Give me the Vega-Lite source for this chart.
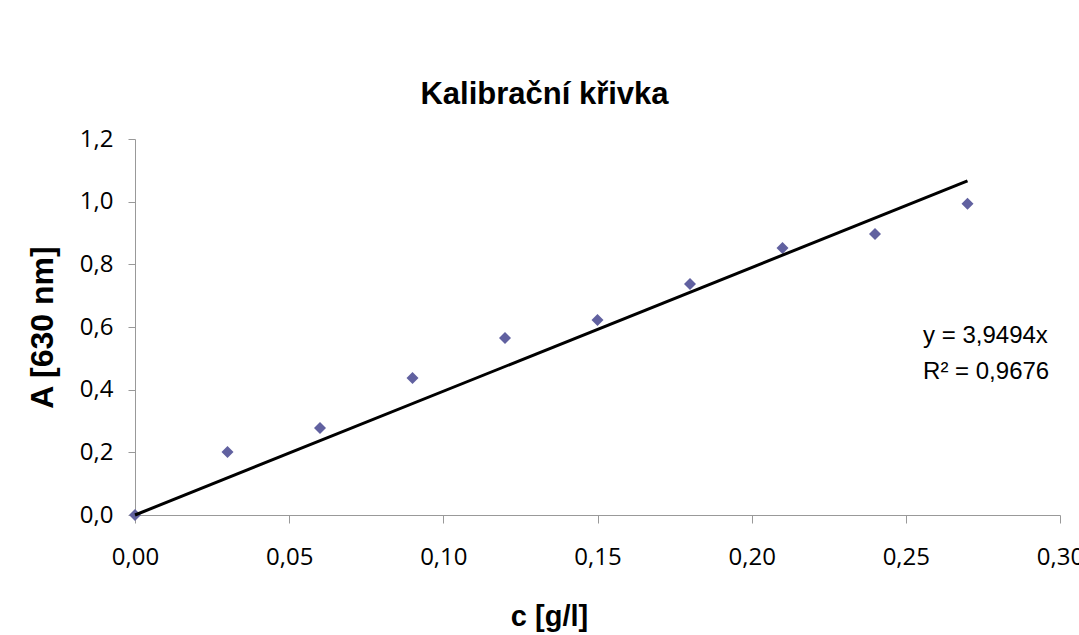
{
  "$schema": "https://vega.github.io/schema/vega-lite/v6.json",
  "autosize": {"type": "none"},
  "width": 925,
  "height": 376,
  "padding": {"left": 135, "top": 139, "right": 19, "bottom": 120},
  "background": "white",
  "config": {
    "view": {"stroke": null},
    "locale": {
      "number": {"decimal": ",", "thousands": " ", "grouping": [3], "currency": ["", " Kč"]}
    },
    "axis": {
      "grid": false,
      "domainColor": "#999999",
      "tickColor": "#999999",
      "labelColor": "#000000",
      "labelFont": "Open Sans",
      "labelFontSize": 24,
      "titleFont": "Liberation Sans",
      "titleFontWeight": "bold",
      "titleColor": "#000000"
    }
  },
  "title": {
    "text": "Kalibrační křivka",
    "font": "Liberation Sans",
    "fontSize": 31,
    "fontWeight": "bold",
    "color": "#000000",
    "anchor": "middle",
    "frame": "group",
    "baseline": "alphabetic",
    "offset": 23,
    "dx": -53,
    "dy": 31
  },
  "datasets": {
    "measurements": [
      {"c": 0.00, "A": 0.000},
      {"c": 0.03, "A": 0.201},
      {"c": 0.06, "A": 0.278},
      {"c": 0.09, "A": 0.437},
      {"c": 0.12, "A": 0.565},
      {"c": 0.15, "A": 0.622},
      {"c": 0.18, "A": 0.737},
      {"c": 0.21, "A": 0.852},
      {"c": 0.24, "A": 0.897},
      {"c": 0.27, "A": 0.993}
    ],
    "trendline": [
      {"c": 0.00, "A": 0.0},
      {"c": 0.27, "A": 1.066338}
    ],
    "equation": [
      {"c": 0.2556, "A": 0.549, "label": "y = 3,9494x"},
      {"c": 0.2556, "A": 0.434, "label": "R² = 0,9676"}
    ]
  },
  "layer": [
    {
      "data": {"name": "measurements"},
      "mark": {"type": "point", "shape": "diamond", "filled": true, "size": 144, "color": "#6161A0", "opacity": 1},
      "encoding": {
        "x": {
          "field": "c",
          "type": "quantitative",
          "scale": {"domain": [0, 0.3], "nice": false, "zero": true},
          "axis": {
            "values": [0, 0.05, 0.1, 0.15, 0.2, 0.25, 0.3],
            "format": ".2f",
            "tickSize": 8,
            "labelPadding": 22,
            "labelFlush": false,
            "labelOverlap": false,
            "title": "c [g/l]",
            "titleFontSize": 29,
            "titleX": 414,
            "titleY": 110,
            "titleAlign": "center",
            "titleBaseline": "alphabetic"
          }
        },
        "y": {
          "field": "A",
          "type": "quantitative",
          "scale": {"domain": [0, 1.2], "nice": false, "zero": true},
          "axis": {
            "values": [0, 0.2, 0.4, 0.6, 0.8, 1.0, 1.2],
            "format": ".1f",
            "tickSize": 7,
            "labelPadding": 15,
            "labelFlush": false,
            "labelOverlap": false,
            "title": "A [630 nm]",
            "titleFontSize": 32,
            "titleAngle": -90,
            "titleX": -83,
            "titleY": 188,
            "titleAlign": "center",
            "titleBaseline": "alphabetic"
          }
        }
      }
    },
    {
      "data": {"name": "trendline"},
      "mark": {"type": "line", "color": "#000000", "strokeWidth": 3},
      "encoding": {
        "x": {"field": "c", "type": "quantitative"},
        "y": {"field": "A", "type": "quantitative"}
      }
    },
    {
      "data": {"name": "equation"},
      "mark": {"type": "text", "font": "Liberation Sans", "fontSize": 24, "align": "left", "baseline": "alphabetic", "color": "#000000"},
      "encoding": {
        "x": {"field": "c", "type": "quantitative"},
        "y": {"field": "A", "type": "quantitative"},
        "text": {"field": "label"}
      }
    }
  ]
}
